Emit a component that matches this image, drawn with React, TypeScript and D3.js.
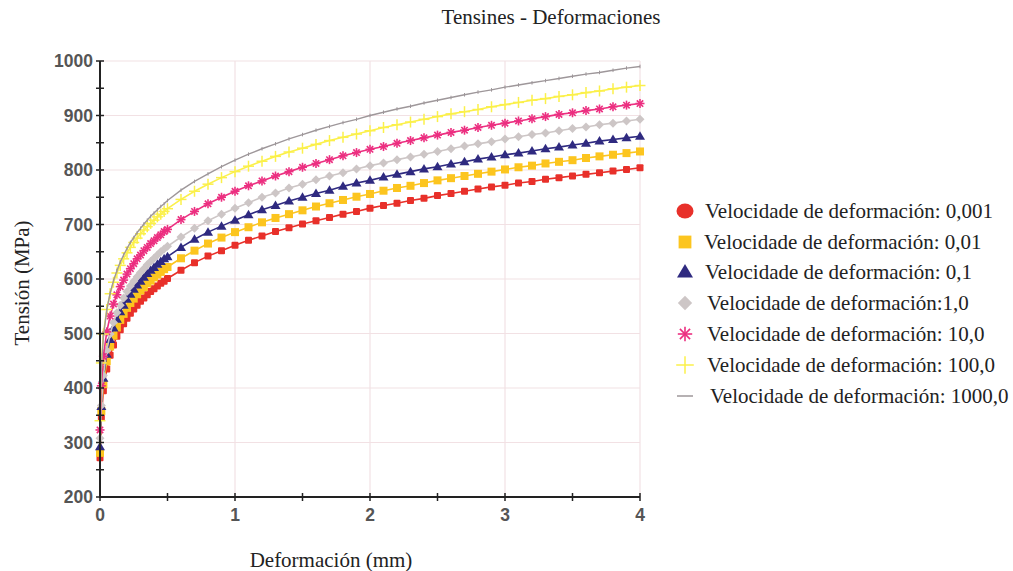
import React from "react";
import * as d3 from "d3";

const strain = [0, 0.01, 0.025, 0.05, 0.075, 0.1, 0.125, 0.15, 0.175, 0.2, 0.225, 0.25, 0.275, 0.3, 0.325, 0.35, 0.375, 0.4, 0.425, 0.45, 0.475, 0.5,
  0.6, 0.7, 0.8, 0.9, 1.0, 1.1, 1.2, 1.3, 1.4, 1.5, 1.6, 1.7, 1.8, 1.9, 2.0, 2.1, 2.2, 2.3, 2.4, 2.5, 2.6, 2.7, 2.8, 2.9, 3.0,
  3.1, 3.2, 3.3, 3.4, 3.5, 3.6, 3.7, 3.8, 3.9, 4.0];

const v0001 = [272, 347, 395, 435, 460, 479, 495, 507, 518, 528, 537, 545, 552, 559, 565, 571, 577, 582, 587, 592, 596, 601,
  616, 630, 642, 652, 662, 671, 679, 687, 694, 701, 707, 713, 719, 724, 730, 735, 739, 744, 748, 753, 757, 761, 765, 769, 772,
  776, 779, 783, 786, 789, 792, 795, 798, 801, 804];
const v001 = [281, 358, 407, 449, 476, 496, 511, 525, 536, 547, 556, 564, 572, 579, 585, 592, 597, 603, 608, 613, 618, 622,
  638, 652, 665, 676, 686, 695, 704, 712, 719, 726, 733, 739, 745, 751, 756, 762, 767, 771, 776, 781, 785, 789, 793, 797, 801,
  805, 808, 812, 815, 818, 822, 825, 828, 831, 834];
const v01 = [292, 366, 418, 462, 489, 510, 526, 540, 552, 563, 572, 581, 589, 596, 603, 610, 616, 621, 627, 632, 637, 641,
  658, 673, 686, 697, 708, 718, 727, 735, 743, 750, 757, 763, 770, 776, 781, 787, 792, 797, 802, 806, 811, 815, 820, 824, 828,
  831, 835, 839, 842, 846, 849, 853, 856, 859, 862];
const v1 = [308, 368, 423, 469, 499, 520, 538, 552, 565, 577, 587, 596, 604, 612, 619, 626, 632, 638, 644, 650, 655, 660,
  677, 693, 707, 719, 730, 740, 750, 758, 767, 774, 782, 789, 795, 802, 808, 813, 819, 824, 829, 834, 839, 844, 848, 852, 857,
  861, 865, 868, 872, 876, 879, 883, 886, 890, 893];
const v10 = [323, 404, 458, 503, 532, 554, 571, 586, 598, 609, 619, 628, 637, 644, 652, 658, 665, 670, 676, 681, 687, 691,
  709, 724, 738, 750, 761, 771, 780, 789, 797, 805, 812, 819, 826, 832, 838, 843, 849, 854, 859, 864, 869, 873, 878, 882, 886,
  890, 894, 898, 902, 905, 909, 912, 916, 919, 922];
const v100 = [340, 446, 499, 544, 573, 594, 611, 625, 637, 648, 658, 667, 675, 683, 690, 696, 702, 708, 714, 719, 724, 729,
  746, 761, 774, 786, 797, 807, 816, 825, 833, 840, 847, 854, 860, 866, 872, 878, 883, 888, 893, 898, 903, 907, 911, 916, 920,
  924, 928, 931, 935, 938, 942, 945, 949, 952, 955];
const v1000 = [355, 436, 494, 543, 574, 597, 615, 631, 644, 656, 667, 676, 685, 693, 701, 708, 715, 721, 727, 733, 738, 744,
  763, 779, 793, 806, 818, 829, 839, 848, 857, 865, 873, 880, 887, 893, 900, 906, 912, 917, 923, 928, 933, 938, 943, 947, 952,
  956, 960, 964, 968, 972, 976, 979, 983, 987, 990];

const legendLabels = [
  "Velocidade de deformación: 0,001",
  "Velocidade de deformación: 0,01",
  "Velocidade de deformación: 0,1",
  "Velocidade de deformación:1,0",
  "Velocidade de deformación: 10,0",
  "Velocidade de deformación: 100,0",
  "Velocidade de deformación: 1000,0",
];

const yTicks = [200, 300, 400, 500, 600, 700, 800, 900, 1000];
const xTicks = [0, 1, 2, 3, 4];

type Kind = "circleSq" | "square" | "triangle" | "diamond" | "star" | "plus" | "dash";

const series: { values: number[]; color: string; kind: Kind; legendKind: string }[] = [
  { values: v0001, color: "#e8302a", kind: "circleSq", legendKind: "circle" },
  { values: v001, color: "#fcc51f", kind: "square", legendKind: "square" },
  { values: v01, color: "#2f2a80", kind: "triangle", legendKind: "triangle" },
  { values: v1, color: "#cdc6c6", kind: "diamond", legendKind: "diamond" },
  { values: v10, color: "#ec2f80", kind: "star", legendKind: "star" },
  { values: v100, color: "#fbf04a", kind: "plus", legendKind: "plus" },
  { values: v1000, color: "#9e979a", kind: "dash", legendKind: "line" },
];

function Marker({ kind, x, y, color, s = 1 }: { kind: string; x: number; y: number; color: string; s?: number }) {
  switch (kind) {
    case "circleSq":
      return <rect x={x - 3.5 * s} y={y - 3.5 * s} width={7 * s} height={7 * s} rx={1} fill={color} />;
    case "circle":
      return <ellipse cx={x} cy={y} rx={8.5} ry={7.5} fill={color} />;
    case "square":
      return <rect x={x - 4 * s} y={y - 4 * s} width={8 * s} height={8 * s} fill={color} />;
    case "triangle":
      return <path d={`M${x},${y - 5 * s}L${x + 5 * s},${y + 3.5 * s}L${x - 5 * s},${y + 3.5 * s}Z`} fill={color} />;
    case "diamond":
      return <path d={`M${x},${y - 4.5 * s}L${x + 4.5 * s},${y}L${x},${y + 4.5 * s}L${x - 4.5 * s},${y}Z`} fill={color} />;
    case "star": {
      const r = 4.5 * s;
      const angles = [0, 45, 90, 135];
      return (
        <g stroke={color} strokeWidth={1.6}>
          {angles.map((a) => {
            const rad = (a * Math.PI) / 180;
            return <line key={a} x1={x - r * Math.cos(rad)} y1={y - r * Math.sin(rad)} x2={x + r * Math.cos(rad)} y2={y + r * Math.sin(rad)} />;
          })}
        </g>
      );
    }
    case "plus": {
      const r = 5.5 * s;
      return (
        <g stroke={color} strokeWidth={1.5}>
          <line x1={x - r} y1={y} x2={x + r} y2={y} />
          <line x1={x} y1={y - r} x2={x} y2={y + r} />
        </g>
      );
    }
    case "dash":
      return <line x1={x} y1={y - 1.8} x2={x} y2={y + 1.8} stroke={color} strokeWidth={1} />;
    case "line":
      return <line x1={x - 8} y1={y} x2={x + 8} y2={y} stroke={color} strokeWidth={1.5} />;
    default:
      return null;
  }
}

export default function App() {
  const W = 1013;
  const H = 571;
  const x = d3.scaleLinear().domain([0, 4]).range([100, 640]);
  const y = d3.scaleLinear().domain([200, 1000]).range([497, 61]);
  const line = d3
    .line<number>()
    .x((_, i) => x(strain[i]))
    .y((d) => y(d));

  const minorY = d3.range(250, 1000, 100);
  const minorX = [0.5, 1.5, 2.5, 3.5];
  const tickFont = "'Liberation Sans', Arial, sans-serif";
  const serif = "'Liberation Serif', 'Times New Roman', serif";

  const legendY = [211, 242, 272, 303, 334, 365, 396];
  const legendTextX = [705, 704, 705, 707, 707, 707, 710];

  return (
    <svg width={W} height={H} style={{ position: "absolute", left: 0, top: 0, background: "#fff" }}>
      <rect width={W} height={H} fill="#fff" />
      <text x={551} y={24} textAnchor="middle" fontFamily={serif} fontSize={21} fill="#222">
        Tensines - Deformaciones
      </text>

      {/* grid */}
      {yTicks.filter((t) => t > 200).map((t) => (
        <line key={"gy" + t} x1={x(0)} x2={x(4)} y1={y(t)} y2={y(t)} stroke="#f2e1e4" strokeWidth={1.2} />
      ))}
      {xTicks.filter((t) => t > 0).map((t) => (
        <line key={"gx" + t} x1={x(t)} x2={x(t)} y1={y(200)} y2={y(1000)} stroke="#f2e1e4" strokeWidth={1.2} />
      ))}

      {/* series */}
      {series.map((s, si) => (
        <g key={si}>
          <path d={line(s.values) || ""} fill="none" stroke={s.color} strokeWidth={s.kind === "dash" ? 1.4 : 1.6} />
          {s.values.map((v, i) => (
            <Marker key={i} kind={s.kind} x={x(strain[i])} y={y(v)} color={s.color} />
          ))}
        </g>
      ))}

      {/* axes */}
      <line x1={x(0)} x2={x(0)} y1={y(200) + 1} y2={y(1000)} stroke="#222" strokeWidth={2} />
      <line x1={x(0) - 1} x2={x(4)} y1={y(200)} y2={y(200)} stroke="#222" strokeWidth={2} />
      {yTicks.map((t) => (
        <g key={"yt" + t}>
          <line x1={x(0) - 4} x2={x(0) + 4} y1={y(t)} y2={y(t)} stroke="#222" strokeWidth={1.5} />
          <text x={93} y={y(t) + 6} textAnchor="end" fontFamily={tickFont} fontWeight="bold" fontSize={17.5} fill="#555">
            {t}
          </text>
        </g>
      ))}
      {minorY.map((t) => (
        <line key={"my" + t} x1={x(0) - 4} x2={x(0) + 4} y1={y(t)} y2={y(t)} stroke="#222" strokeWidth={1.5} />
      ))}
      {xTicks.map((t) => (
        <g key={"xt" + t}>
          <line x1={x(t)} x2={x(t)} y1={y(200) - 4} y2={y(200) + 4} stroke="#222" strokeWidth={1.5} />
          <text x={x(t)} y={521} textAnchor="middle" fontFamily={tickFont} fontWeight="bold" fontSize={17.5} fill="#555">
            {t}
          </text>
        </g>
      ))}
      {minorX.map((t) => (
        <line key={"mx" + t} x1={x(t)} x2={x(t)} y1={y(200) - 4} y2={y(200) + 4} stroke="#222" strokeWidth={1.5} />
      ))}

      {/* axis titles */}
      <text x={331} y={567} textAnchor="middle" fontFamily={serif} fontSize={21} fill="#222">
        Deformación (mm)
      </text>
      <text transform={`translate(29,283) rotate(-90)`} textAnchor="middle" fontFamily={serif} fontSize={21} fill="#222">
        Tensión (MPa)
      </text>

      {/* legend */}
      {series.map((s, i) => (
        <g key={"lg" + i}>
          <Marker kind={s.legendKind} x={685} y={legendY[i]} color={s.color} s={1.6} />
          <text x={legendTextX[i]} y={legendY[i] + 7} fontFamily={serif} fontSize={21} fill="#222">
            {legendLabels[i]}
          </text>
        </g>
      ))}
    </svg>
  );
}
